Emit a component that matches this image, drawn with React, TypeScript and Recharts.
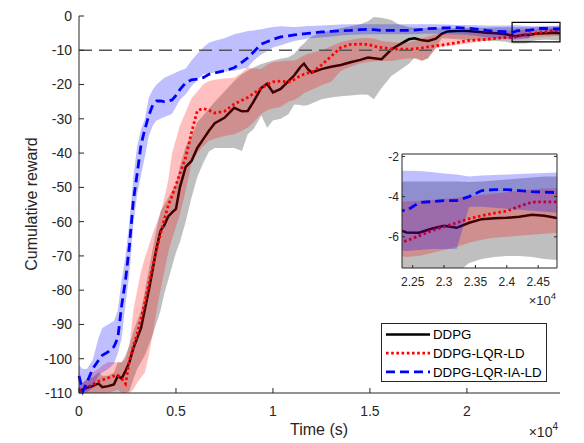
import React from "react";
import {
  ComposedChart,
  Area,
  Line,
  XAxis,
  YAxis,
  ReferenceLine,
  ReferenceArea,
} from "recharts";

// time in seconds
const time = [
  0, 200, 400, 700, 1000, 1200, 1500, 1800, 2000, 2200,
  2400, 2600, 2800, 3000, 3200, 3400, 3600, 3800, 4000, 4200,
  4400, 4600, 4800, 5000, 5200, 5500, 5800, 6100, 6400, 6700,
  7000, 7500, 8000, 8400, 8700, 9000, 9400, 9700, 10000, 10400,
  10800, 11100, 11400, 11600, 11800, 12000, 12500, 13000, 13500, 14000,
  14500, 14900, 15200, 15600, 16100, 16500, 17000, 17300, 17700, 18000,
  18400, 18700, 19000, 19500, 20000, 20500, 21000, 21500, 22000, 22400,
  22600, 22800, 23000, 23200, 23400, 23600, 23800, 24000, 24200, 24400,
  24600, 24800,
];

// DDPG
const ddpgMean = [
  -109.3, -109, -108.5, -108, -107.2, -108.3, -108, -107.5, -105, -105.8,
  -103.5, -101, -97, -94, -91, -85.5, -80, -74, -67.6, -62.7,
  -61, -58.5, -57.3, -56.3, -50, -44, -42.3, -38.5, -36, -33.5,
  -31.3, -29.7, -26.8, -27.8, -27.7, -25, -21, -19.8, -22.3, -21.3,
  -19, -17.3, -15, -13.9, -15.5, -16.5, -15.5, -14.8, -14.3, -13.5,
  -12.8, -12.1, -12.3, -12.6, -9.8, -8.4, -6.8, -6.5, -7.1, -7.3,
  -6.6, -5.2, -4.5, -4.4, -4.4, -4.6, -4.9, -5, -5.3, -5.78,
  -5.8, -5.6, -5.45, -5.55, -5.3, -5.12, -5.08, -5.05, -5.0, -4.9,
  -4.95, -5.07,
];
const ddpgLow = [
  -110, -110, -110, -110, -110, -110, -110, -110, -110, -110,
  -110, -109.5, -106, -103, -101, -99, -96, -93, -89.5, -86,
  -81, -77, -73, -69, -66, -60, -53, -47, -43, -39.5,
  -38.5, -38.5, -38.5, -39.4, -34.5, -33, -29, -32.6, -30.5, -30,
  -28.7, -25.8, -26, -26.2, -26, -25.5, -24.3, -23.8, -23.4, -23.2,
  -22.9, -23, -24.3, -21, -17.5, -16, -14, -12.2, -13, -12.5,
  -9.2, -6.5, -6.6, -6.8, -7, -7.1, -7.2, -7.3, -7.5, -8,
  -8, -8, -8, -7.8, -7.3, -7.1, -7, -6.95, -6.95, -7,
  -7.1, -7.15,
];
const ddpgHigh = [
  -107, -107, -106, -105.5, -104, -105, -105, -104, -101, -101,
  -99, -96, -92, -89, -86, -80, -74, -68, -62, -57,
  -55, -53, -51, -49, -44, -38, -35, -31, -29, -27,
  -25, -22, -19, -17, -16, -15, -14, -13.5, -13, -12.5,
  -12, -11, -9, -8, -6.8, -6, -4.8, -4.2, -3.6, -3,
  -2.4, -1.5, -0.3, -0.5, -1.2, -2.5, -3.2, -3.4, -3.5, -3.5,
  -3.5, -3.5, -3.5, -3.5, -3.4, -3.4, -3.4, -3.3, -3.3, -3.25,
  -3.25, -3.25, -3.25, -3.25, -3.27, -3.25, -3.2, -3.15, -3.1, -3.05,
  -3.0, -3.0,
];

// DDPG-LQR-LD
const lqrMean = [
  -109.3, -109, -108.5, -107.5, -106.6, -106.2, -105.6, -105, -104.9, -105.8,
  -107.3, -100.5, -96.5, -92.7, -88.2, -83.5, -78, -73, -68.3, -63.6,
  -59.3, -55.3, -52.5, -49.3, -46, -41.3, -34, -27.6, -27, -27.5,
  -28.3, -27.8, -25.7, -24.6, -23.8, -22.6, -21, -20, -19.2, -19,
  -19.3, -18.5, -17.5, -17, -16.6, -16.5, -14.3, -11.8, -9.2, -8.3,
  -8.2, -8.3, -8.8, -9.2, -9.6, -9.7, -9.7, -9.6, -9.3, -9.0,
  -8.7, -8.5, -8.2, -7.8, -7.2, -7.0, -6.8, -6.5, -6.3, -6.2,
  -5.95, -5.7, -5.5, -5.3, -5.1, -4.95, -4.82, -4.72, -4.48, -4.27,
  -4.26, -4.26,
];
const lqrLow = [
  -110, -110, -110, -110, -110, -110, -110, -109.5, -109, -110,
  -110, -110, -109, -107, -105.5, -104, -99, -93, -86, -80,
  -74.5, -69, -65, -61.5, -58, -51, -43, -40, -38, -36.4,
  -35.8, -35, -34.5, -33.5, -32.5, -31, -28.5, -27.5, -27, -26.5,
  -25, -24.5, -23.5, -22.5, -22, -21.5, -20.2, -19.2, -16, -14.8,
  -13.8, -13.4, -13.2, -13.1, -13.1, -12.8, -12.3, -12.5, -13.1, -12,
  -9.5, -9, -8.8, -8.4, -8.1, -7.6, -7.2, -6.9, -6.8, -7.0,
  -6.95, -6.8, -6.65, -6.5, -6.3, -6.15, -6.05, -6.0, -5.95, -5.9,
  -5.85, -5.8,
];
const lqrHigh = [
  -108, -107, -106, -104, -103, -102, -101, -101, -101, -101,
  -100, -96, -86, -80, -74.5, -70.5, -67, -63.5, -60.5, -57.7,
  -53, -48, -40, -36, -32, -28, -24, -22, -20, -19,
  -18.6, -18.2, -18, -16.5, -15, -15.3, -15.5, -14.2, -13.5, -13.2,
  -13, -13, -12.2, -11.5, -11, -10.8, -10, -8.8, -7.6, -7,
  -6.5, -6.4, -6.6, -7.3, -7.6, -7.8, -7.7, -7.2, -6.5, -6,
  -5.4, -5.2, -5.1, -5, -4.9, -4.8, -4.6, -4.5, -4.4, -4.24,
  -4.2, -4.15, -4.1, -4.05, -4.0, -3.92, -3.85, -3.78, -3.7, -3.65,
  -3.6, -3.58,
];

// DDPG-LQR-IA-LD
const iaMean = [
  -105, -109.5, -107, -103, -100.5, -99, -98, -96.5, -94, -84.5,
  -77, -67, -54, -46, -37.5, -33, -29, -26, -24.8, -24.8,
  -25, -24.8, -24.5, -23.2, -21.5, -19.5, -18.6, -18.4, -18, -17,
  -16.6, -16, -15.1, -13.5, -12.2, -10.5, -8.2, -7.5, -6.8, -6.1,
  -5.8, -5.5, -5.3, -5.2, -5.1, -5, -4.66, -4.5, -4.3, -4.2,
  -4, -3.9, -4, -4.2, -4.2, -4.2, -4.2, -4.1, -3.9, -3.7,
  -3.6, -3.5, -3.45, -3.4, -3.55, -3.8, -4.2, -4.5, -4.6, -4.7,
  -4.3, -4.25, -4.2, -4.2, -4.0, -3.7, -3.65, -3.65, -3.7, -3.75,
  -3.78, -3.8,
];
const iaLow = [
  -110, -110, -110, -108.5, -105, -104, -103, -101.5, -98.5, -94,
  -84, -75, -61, -52, -46.5, -41, -35, -32, -30.5, -30,
  -29.5, -29, -28.5, -26.5, -24.5, -22.8, -20.5, -18.7, -17, -16.8,
  -16.5, -16.2, -16, -15.5, -15, -13, -11.2, -10.2, -9.2, -8.5,
  -7.8, -7.3, -7, -6.8, -6.6, -6.4, -6.3, -6, -5.7, -5.5,
  -5.4, -5.3, -5.3, -5.3, -5.3, -5.3, -5.3, -5.3, -5.2, -5.2,
  -5.2, -5.3, -5.3, -5.4, -5.5, -5.8, -6.2, -6.5, -6.6, -6.7,
  -6.65, -6.6, -6.6, -6.6, -4.5, -4.5, -4.55, -4.6, -4.65, -4.7,
  -4.75, -4.8,
];
const iaHigh = [
  -102, -103, -103, -100.5, -94, -91, -90, -89, -86, -77,
  -70, -60, -47, -38, -33, -30, -23.8, -21.5, -20, -19,
  -18, -17.5, -17, -16.5, -16, -15.3, -13, -11, -9.2, -7.8,
  -7.2, -6.5, -5.3, -4.8, -4.4, -4.2, -3.9, -3.5, -3.2, -3,
  -3.1, -3.2, -3.1, -3, -2.9, -2.9, -2.8, -2.6, -2.5, -2.4,
  -2.4, -2.4, -2.4, -2.4, -2.4, -2.4, -2.4, -2.4, -2.4, -2.4,
  -2.4, -2.5, -2.5, -2.6, -2.6, -2.7, -2.8, -2.8, -2.75, -2.71,
  -2.72, -2.78, -2.85, -2.9, -3.0, -2.95, -2.92, -2.9, -2.88, -2.85,
  -2.82, -2.8,
];

const seriesNames = ["DDPG", "DDPG-LQR-LD", "DDPG-LQR-IA-LD"];
const yTicksMain = [-110, -100, -90, -80, -70, -60, -50, -40, -30, -20, -10, 0];
const xTicksMain = [0, 5000, 10000, 15000, 20000];
const xTicksInset = [22500, 23000, 23500, 24000, 24500];
const yTicksInset = [-6, -4, -2];
const insetX = [22330, 24800];
const insetY = [-7.55, -1.88];
const threshold = -10;

const rows = time.map((t, i) => ({
  t,
  ddpg: ddpgMean[i],
  ddpgBand: [ddpgLow[i], ddpgHigh[i]],
  lqr: lqrMean[i],
  lqrBand: [lqrLow[i], lqrHigh[i]],
  ia: iaMean[i],
  iaBand: [iaLow[i], iaHigh[i]],
}));

const FONT = '"Liberation Sans", Arial, Helvetica, sans-serif';
const INK = "#262626";

const styles = [
  { color: "#000000", width: 2.5, dash: undefined as string | undefined },
  { color: "#ff0000", width: 2.8, dash: "2.6 2.6" },
  { color: "#0000ff", width: 2.8, dash: "9 5" },
];

const fmt4 = (v: number) => String(v / 1e4);

// inward ticks drawn by hand (tickSize is 0, so x/y is axis minus margin)
const leftTick = (margin: number, len: number, fs: number) => (p: any) => (
  <g>
    <line x1={p.x + margin} x2={p.x + margin + len} y1={p.y} y2={p.y} stroke={INK} />
    <text x={p.x} y={p.y} dy="0.35em" textAnchor="end" fontSize={fs} fontFamily={FONT} fill={INK}>
      {p.payload.value}
    </text>
  </g>
);
const bottomTick = (margin: number, len: number, fs: number) => (p: any) => (
  <g>
    <line x1={p.x} x2={p.x} y1={p.y - margin} y2={p.y - margin - len} stroke={INK} />
    <text x={p.x} y={p.y} dy="0.71em" textAnchor="middle" fontSize={fs} fontFamily={FONT} fill={INK}>
      {fmt4(p.payload.value)}
    </text>
  </g>
);
const rightTick = (len: number) => (p: any) => (
  <line x1={p.x} x2={p.x - len} y1={p.y} y2={p.y} stroke={INK} />
);
const topTick = (len: number) => (p: any) => (
  <line x1={p.x} x2={p.x} y1={p.y} y2={p.y + len} stroke={INK} />
);

function Series() {
  const [k, r, b] = styles;
  return [
    <Area key="gb" dataKey="ddpgBand" stroke="none" fill="#000000" fillOpacity={0.25} isAnimationActive={false} zIndex={101} />,
    <Line key="gl" dataKey="ddpg" stroke={k.color} strokeWidth={k.width} dot={false} activeDot={false} isAnimationActive={false} zIndex={102} />,
    <Area key="rb" dataKey="lqrBand" stroke="none" fill="#ff0000" fillOpacity={0.25} isAnimationActive={false} zIndex={103} />,
    <Line key="rl" dataKey="lqr" stroke={r.color} strokeWidth={r.width} strokeDasharray={r.dash} dot={false} activeDot={false} isAnimationActive={false} zIndex={104} />,
    <Area key="bb" dataKey="iaBand" stroke="none" fill="#0000ff" fillOpacity={0.25} isAnimationActive={false} zIndex={105} />,
    <Line key="bl" dataKey="ia" stroke={b.color} strokeWidth={b.width} strokeDasharray={b.dash} dot={false} activeDot={false} isAnimationActive={false} zIndex={106} />,
  ];
}

export default function App() {
  return (
    <div style={{ position: "absolute", left: 0, top: 0, width: 584, height: 443, background: "#fff" }}>
      <div style={{ position: "absolute", left: 0, top: 0 }}>
        <ComposedChart width={584} height={443} data={rows} margin={{ top: 16, right: 24, bottom: 49, left: 78 }}>
          <XAxis
            dataKey="t"
            type="number"
            domain={[0, 24800]}
            ticks={xTicksMain}
            interval={0}
            height={1}
            tickSize={0}
            tickMargin={13}
            tickLine={false}
            axisLine={{ stroke: INK }}
            tick={bottomTick(13, 5, 14)}
          />
          <YAxis
            type="number"
            domain={[-110, 0]}
            ticks={yTicksMain}
            interval={0}
            width={1}
            tickSize={0}
            tickMargin={7}
            tickLine={false}
            axisLine={{ stroke: INK }}
            tick={leftTick(7, 5, 14)}
          />
          <ReferenceLine y={threshold} stroke="#555555" strokeWidth={1.3} strokeDasharray="13 7" />
          {Series()}
          <ReferenceArea
            x1={insetX[0]}
            x2={insetX[1]}
            y1={insetY[0]}
            y2={insetY[1]}
            fill="none"
            fillOpacity={0}
            stroke="#000000"
            strokeWidth={1.2}
          />
        </ComposedChart>
      </div>

      <div style={{ position: "absolute", left: 380, top: 140 }}>
        <ComposedChart width={200} height={175} data={rows} margin={{ top: 13, right: 22, bottom: 46, left: 21 }}>
          <XAxis
            dataKey="t"
            type="number"
            domain={insetX}
            allowDataOverflow
            ticks={xTicksInset}
            interval={0}
            height={1}
            tickSize={0}
            tickMargin={9}
            tickLine={false}
            axisLine={{ stroke: INK }}
            tick={bottomTick(9, 3, 12)}
          />
          <XAxis
            xAxisId="top"
            orientation="top"
            type="number"
            domain={insetX}
            allowDataOverflow
            ticks={xTicksInset}
            interval={0}
            height={1}
            tickSize={0}
            tickMargin={0}
            tickLine={false}
            axisLine={{ stroke: INK }}
            tick={topTick(3)}
          />
          <YAxis
            type="number"
            domain={insetY}
            allowDataOverflow
            ticks={yTicksInset}
            interval={0}
            width={1}
            tickSize={0}
            tickMargin={3}
            tickLine={false}
            axisLine={{ stroke: INK }}
            tick={leftTick(3, 3, 12)}
          />
          <YAxis
            yAxisId="right"
            orientation="right"
            type="number"
            domain={insetY}
            allowDataOverflow
            ticks={yTicksInset}
            interval={0}
            width={1}
            tickSize={0}
            tickMargin={0}
            tickLine={false}
            axisLine={{ stroke: INK }}
            tick={rightTick(3)}
          />
          {Series()}
        </ComposedChart>
      </div>

      <svg
        width={584}
        height={443}
        style={{ position: "absolute", left: 0, top: 0, pointerEvents: "none" }}
        fontFamily={FONT}
      >
        <text transform="translate(31,204) rotate(-90)" textAnchor="middle" dy="0.35em" fontSize={16} fill={INK}>
          Cumulative reward
        </text>
        <text x={319} y={435} textAnchor="middle" fontSize={16} fill={INK}>
          Time (s)
        </text>
        <text x={558} y={437} textAnchor="end" fontSize={14} fill={INK}>
          ×10<tspan dy={-7} fontSize={10}>4</tspan>
        </text>
        <text x={556} y={305} textAnchor="end" fontSize={13} fill={INK}>
          ×10<tspan dy={-6} fontSize={9.5}>4</tspan>
        </text>

        <rect x={381.5} y={323.5} width={165} height={58} fill="#ffffff" stroke={INK} strokeWidth={1} />
        {seriesNames.map((name, i) => {
          const s = styles[i];
          const y = 334.5 + i * 18.7;
          return (
            <g key={name}>
              <line x1={386} x2={430} y1={y} y2={y} stroke={s.color} strokeWidth={s.width} strokeDasharray={s.dash} />
              <text x={433} y={y} dy="0.35em" fontSize={13.3} fill="#000">
                {name}
              </text>
            </g>
          );
        })}
      </svg>
    </div>
  );
}
